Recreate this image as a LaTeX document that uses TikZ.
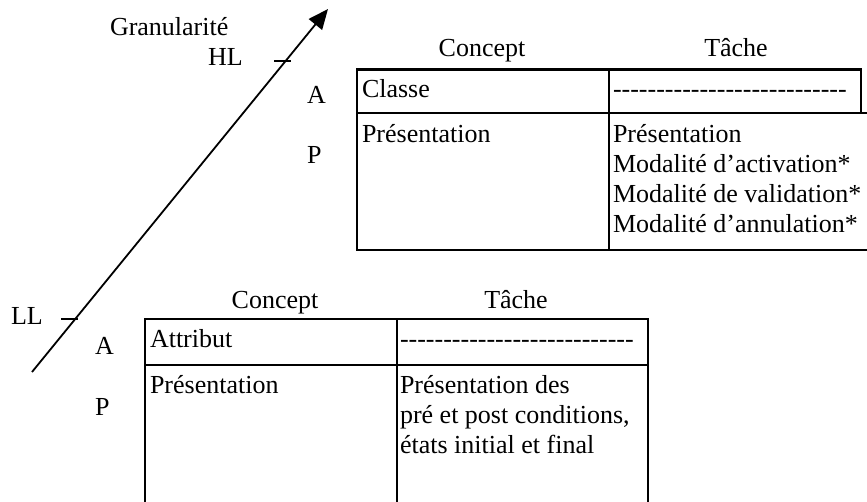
\documentclass[tikz,border=0pt]{standalone}
\usepackage{fontspec}
\setmainfont{Liberation Serif}
\usetikzlibrary{arrows.meta}
\tikzset{
  txt/.style={inner sep=0pt, outer sep=0pt, font=\fontsize{26}{30}\selectfont},
  lbl/.style={txt, anchor=base west},
  hdr/.style={txt, anchor=base},
  multi/.style={txt, anchor=base west, align=left},
  tbl/.style={line width=2.6pt},
  axis/.style={line width=1.8pt, -{Triangle[length=20pt,width=17pt]}},
  tick/.style={line width=1.8pt},
}
\newcommand\dashrow{\foreach \i in {1,...,27}{\mbox{-}}}
\begin{document}
\begin{tikzpicture}[x=1pt,y=-1pt]
\useasboundingbox (0,0) rectangle (867,501);
\clip (0,0) rectangle (867,501);
% axis
\coordinate (ax0) at (32,372);
\coordinate (ax1) at (328,9);
\draw[axis] (ax0) -- (ax1);
\coordinate (hl0) at (274,61); \coordinate (hl1) at (291,61);
\draw[tick] (hl0) -- (hl1);
\coordinate (ll0) at (61,319); \coordinate (ll1) at (78,319);
\draw[tick] (ll0) -- (ll1);
\node[lbl] (gran) at (110,35) {Granularité};
\node[lbl] (hl) at (208,65) {HL};
\node[lbl] (a1) at (307,103) {A};
\node[lbl] (p1) at (307,163) {P};
\node[lbl] (ll) at (11,324) {LL};
\node[lbl] (a2) at (95,354) {A};
\node[lbl] (p2) at (95,415) {P};
% top table
\node[hdr] (c1) at (482,56) {Concept};
\node[hdr] (t1) at (736,56) {Tâche};
\coordinate (T1) at (357,69.5);
\coordinate (T2) at (861,69.5);
\coordinate (T3) at (357,113);
\coordinate (T4) at (867,113);
\coordinate (T5) at (357,250);
\coordinate (T6) at (867,250);
\coordinate (T7) at (609,69.5);
\coordinate (T8) at (609,250);
\coordinate (T9) at (861,113);
\draw[tbl] (T3) -- (T1) -- (T2) -- (T9);
\draw[tbl] (T3) -- (T4);
\draw[tbl] (T3) -- (T5) -- (T6);
\draw[tbl] (T7) -- (T8);
\node[lbl] (classe) at (362,97) {Classe};
\node[lbl] (d1) at (613,97) {\dashrow};
\node[lbl] (pr1) at (362,142) {Présentation};
\node[multi] (pr2) at (613,232) {Présentation\\Modalité d’activation*\\Modalité de validation*\\Modalité d’annulation*};
% bottom table
\node[hdr] (c2) at (275,308) {Concept};
\node[hdr] (t2) at (516,308) {Tâche};
\coordinate (B1) at (145,319);
\coordinate (B2) at (648,319);
\coordinate (B3) at (145,365);
\coordinate (B4) at (648,365);
\coordinate (B5) at (145,505);
\coordinate (B6) at (648,505);
\coordinate (B7) at (397,319);
\coordinate (B8) at (397,505);
\draw[tbl] (B5) -- (B1) -- (B2) -- (B6);
\draw[tbl] (B3) -- (B4);
\draw[tbl] (B7) -- (B8);
\node[lbl] (attr) at (150,347) {Attribut};
\node[lbl] (d2) at (400,347) {\dashrow};
\node[lbl] (pr3) at (150,393) {Présentation};
\node[multi] (pr4) at (400,453) {Présentation des\\pré et post conditions,\\états initial et final};
\end{tikzpicture}
\end{document}
